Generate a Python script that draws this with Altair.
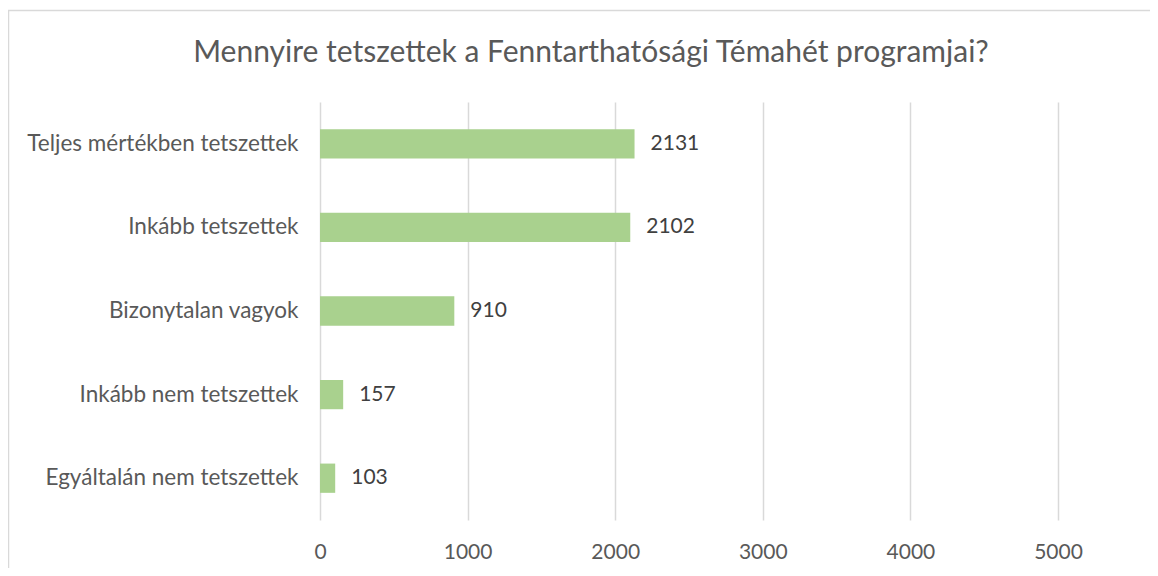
import altair as alt
import pandas as pd

categories = [
    "Teljes mértékben tetszettek",
    "Inkább tetszettek",
    "Bizonytalan vagyok",
    "Inkább nem tetszettek",
    "Egyáltalán nem tetszettek",
]
values = [2131, 2102, 910, 157, 103]
x_ticks = [0, 1000, 2000, 3000, 4000, 5000]
title_text = "Mennyire tetszettek a Fenntarthatósági Témahét programjai?"

df = pd.DataFrame({"category": categories, "value": values})

FONT = "Lato"
x_scale = alt.Scale(domain=[0, 5000], nice=False)
y_scale = alt.Scale(domain=categories, paddingInner=0.65, paddingOuter=0.325)

base = alt.Chart(df)

bars = base.mark_bar(color="#A9D18E").encode(
    x=alt.X("value:Q", scale=x_scale,
            axis=alt.Axis(values=x_ticks, title=None, domain=False, ticks=False,
                          grid=True, gridColor="#D9D9D9", gridWidth=1.5,
                          labelFont=FONT, labelFontSize=21, labelColor="#595959",
                          labelPadding=21, labelFlush=False, format="d")),
    y=alt.Y("category:N", scale=y_scale, sort=categories,
            axis=alt.Axis(title=None, domain=False, ticks=False, grid=False,
                          labelFont=FONT, labelFontSize=22.5, labelColor="#595959",
                          labelPadding=22, labelLimit=400)),
)

labels = base.mark_text(align="left", baseline="middle", dx=16, font=FONT,
                        fontSize=21, color="#404040").encode(
    x=alt.X("value:Q", scale=x_scale),
    y=alt.Y("category:N", scale=y_scale, sort=categories),
    text=alt.Text("value:Q"),
)

border = alt.Chart(pd.DataFrame({"a": [0]})).mark_rect(
    fill=None, stroke="#D9D9D9", strokeWidth=1.5, clip=False
).encode(
    x=alt.value(-311.5), x2=alt.value(900),
    y=alt.value(-91.5), y2=alt.value(600),
)

title = alt.Chart(pd.DataFrame({"t": [title_text]})).mark_text(
    font=FONT, fontSize=30, color="#595959", align="center", baseline="alphabetic"
).encode(
    x=alt.value(271), y=alt.value(-40), text="t:N",
)

chart = alt.layer(border, title, bars, labels).properties(
    width=738, height=418,
    padding={"left": 312, "top": 94, "right": 92, "bottom": 48},
    autosize=alt.AutoSizeParams(type="none"),
).configure(background="white").configure_view(strokeWidth=0, stroke="transparent")

chart.save("out.html", embed_options={"renderer": "svg", "actions": False})
